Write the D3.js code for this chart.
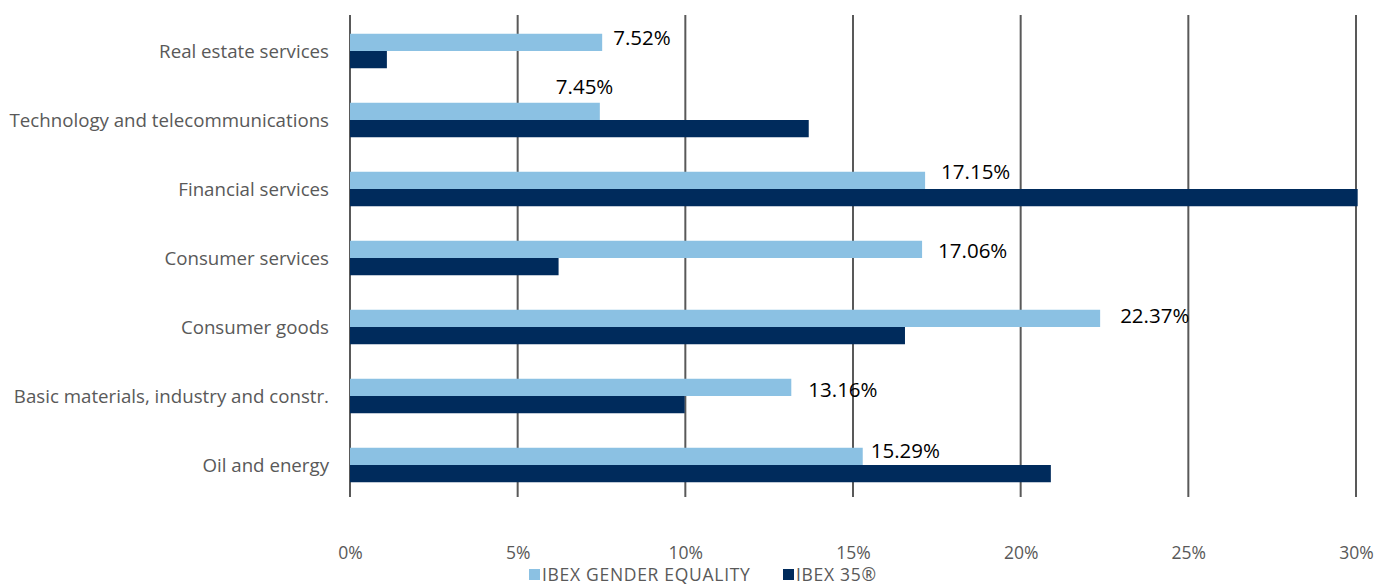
<!DOCTYPE html>
<html>
<head>
<meta charset="utf-8">
<script src="https://cdn.jsdelivr.net/npm/d3@7"></script>
<style>
  html, body { margin: 0; padding: 0; background: #fff; }
  svg { display: block; font-family: "Open Sans", "Noto Sans", sans-serif; }
</style>
</head>
<body>
<svg id="chart" width="1377" height="586"></svg>
<script>
// Sector weights (%) of the two indices
const sectors = [
  "Real estate services",
  "Technology and telecommunications",
  "Financial services",
  "Consumer services",
  "Consumer goods",
  "Basic materials, industry and constr.",
  "Oil and energy"
];
const genderEquality = [7.52, 7.45, 17.15, 17.06, 22.37, 13.16, 15.29];
const ibex35 = [1.1, 13.68, 30.05, 6.22, 16.55, 9.98, 20.9];
const xTicks = [0, 5, 10, 15, 20, 25, 30];
const seriesNames = ["IBEX GENDER EQUALITY", "IBEX 35®"];

// Hand-placed label nudges [dx, dy] relative to the bar end
const labelNudge = [[11, -5], [-44, -25], [16, -9], [16, 1], [20, -3], [17, 2], [8, -6]];

const colors = ["#8bc1e3", "#002b5c"];
const svg = d3.select("#chart");

const x = d3.scaleLinear().domain([0, 30]).range([350, 1356]);
const y = d3.scaleBand().domain(sectors).range([16.5, 499.5]).paddingInner(0.5).paddingOuter(0.25);
const sub = d3.scaleBand().domain([0, 1]).range([0, y.bandwidth()]);

// Vertical gridlines
svg.append("g")
  .selectAll("line")
  .data(xTicks)
  .join("line")
  .attr("x1", d => x(d)).attr("x2", d => x(d))
  .attr("y1", 15).attr("y2", 497)
  .attr("stroke", "#595959").attr("stroke-width", 2);

// Bars
const rows = sectors.map((s, i) => ({ s, vals: [genderEquality[i], ibex35[i]], i }));
const groups = svg.append("g").selectAll("g").data(rows).join("g")
  .attr("transform", d => `translate(0,${y(d.s)})`);

groups.selectAll("rect")
  .data(d => d.vals.map((v, k) => ({ v, k })))
  .join("rect")
  .attr("x", x(0))
  .attr("y", d => sub(d.k))
  .attr("width", d => x(d.v) - x(0))
  .attr("height", sub.bandwidth())
  .attr("fill", d => colors[d.k]);

// Value labels for the gender-equality series
groups.append("text")
  .attr("x", d => x(d.vals[0]) + labelNudge[d.i][0])
  .attr("y", d => sub(0) + sub.bandwidth() / 2 + labelNudge[d.i][1])
  .attr("dy", "0.35em")
  .attr("font-size", 20.5)
  .attr("fill", "#000")
  .text(d => d.vals[0].toFixed(2) + "%");

// Category labels
svg.append("g").selectAll("text").data(sectors).join("text")
  .attr("x", 329)
  .attr("y", d => y(d) + y.bandwidth() / 2)
  .attr("dy", "0.35em")
  .attr("text-anchor", "end")
  .attr("font-size", 18.7)
  .attr("fill", "#595959")
  .text(d => d);

// X axis labels
const xAxis = d3.axisBottom(x).tickValues(xTicks).tickFormat(d => d + "%").tickSize(0).tickPadding(0);
const ax = svg.append("g").attr("transform", "translate(0,547)").call(xAxis);
ax.select(".domain").remove();
ax.selectAll("text").attr("font-size", 17.5).attr("fill", "#595959")
  .attr("font-family", "\"Open Sans\", sans-serif");

// Legend
const legend = svg.append("g").attr("transform", "translate(0,575)");
const legendX = [529, 783];
seriesNames.forEach((name, k) => {
  legend.append("rect").attr("x", legendX[k]).attr("y", -6).attr("width", 11).attr("height", 11).attr("fill", colors[k]);
  legend.append("text").attr("x", legendX[k] + 13).attr("y", 0).attr("dy", "0.35em")
    .attr("font-size", 17.5).attr("letter-spacing", 0.7).attr("fill", "#595959").text(name);
});
</script>
</body>
</html>
